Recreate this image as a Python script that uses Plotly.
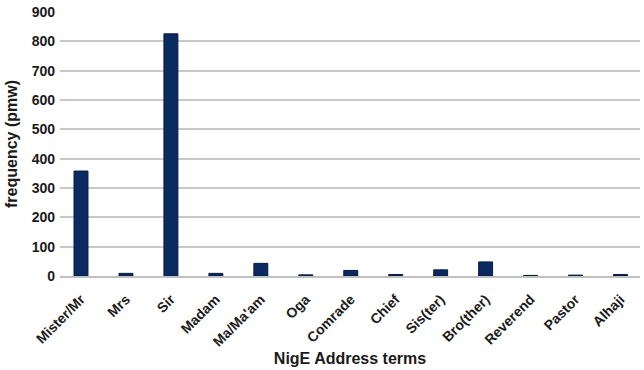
import plotly.graph_objects as go

categories = ["Mister/Mr", "Mrs", "Sir", "Madam", "Ma/Ma'am", "Oga", "Comrade",
              "Chief", "Sis(ter)", "Bro(ther)", "Reverend", "Pastor", "Alhaji"]
values = [358, 9, 826, 9, 43, 4, 19, 5, 21, 48, 2, 3, 5]
y_ticks = [0, 100, 200, 300, 400, 500, 600, 700, 800, 900]

fig = go.Figure(go.Bar(
    x=categories, y=values,
    marker=dict(color="#0b2a5f", line=dict(color="#061a40", width=1)),
    width=0.31,
))

font = "Liberation Sans, Arial, sans-serif"
fig.update_layout(
    width=644, height=370,
    margin=dict(l=60, r=4, t=8, b=94),
    plot_bgcolor="white", paper_bgcolor="white",
    showlegend=False,
    xaxis=dict(
        range=[-0.467, 12.434],
        tickangle=-45,
        tickfont=dict(family=font, size=14, color="#1a1a1a", weight="bold"),
        title=dict(text="NigE Address terms", font=dict(family=font, size=16, color="#1a1a1a", weight="bold"), standoff=4),
        showline=True, linecolor="#c0c0c0", linewidth=1.5,
        ticks="", ticklabelstandoff=8,
    ),
    yaxis=dict(
        range=[0, 900.5], tickvals=y_ticks,
        tickfont=dict(family=font, size=14, color="#1a1a1a", weight="bold"),
        title=dict(text="frequency (pmw)", font=dict(family=font, size=16, color="#1a1a1a", weight="bold"), standoff=10),
        showgrid=True, gridcolor="#c8c8c8", gridwidth=1.5,
        zeroline=False, ticks="", ticklabelstandoff=4,
    ),
)

fig.write_html("out.html")
